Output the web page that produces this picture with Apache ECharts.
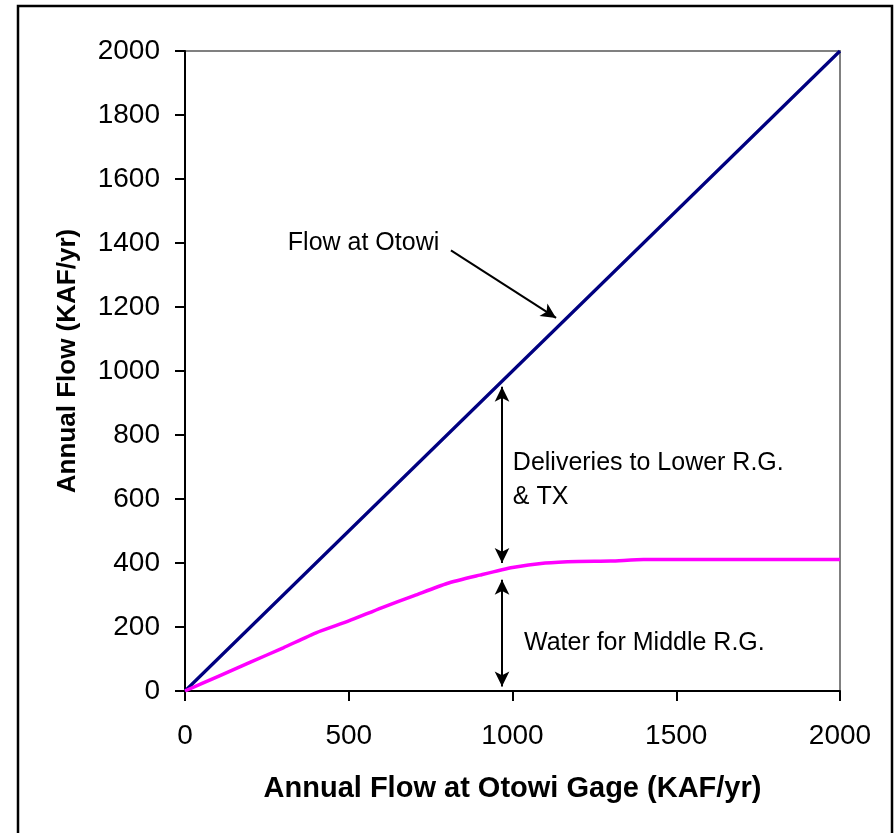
<!DOCTYPE html>
<html><head><meta charset="utf-8">
<script src="https://cdn.jsdelivr.net/npm/echarts@6/dist/echarts.min.js"></script>
<style>html,body{margin:0;padding:0;background:#fff}#c{width:896px;height:833px}</style>
</head><body><div id="c"></div>
<script>
const xValues = [0,100,200,300,400,500,600,700,800,900,1000,1100,1200,1300,1400,1500,1600,1700,1800,1900,2000];
const flowAtOtowi = [0,100,200,300,400,500,600,700,800,900,1000,1100,1200,1300,1400,1500,1600,1700,1800,1900,2000];
const middleRG = [0,45,90,135,182,219,260,298,336,362,386,400,405,406,411,411,411,411,411,411,411];
const xTicks = [0,500,1000,1500,2000];
const yTicks = [0,200,400,600,800,1000,1200,1400,1600,1800,2000];
const xTitle = 'Annual Flow at Otowi Gage (KAF/yr)';
const yTitle = 'Annual Flow (KAF/yr)';
const notes = [
  {text:'Flow at Otowi', coord:[314,1400]},
  {text:'Deliveries to Lower R.G.\n& TX', coord:[1001,659]},
  {text:'Water for Middle R.G.', coord:[1035,150]}
];
const arrows = [
  {from:[812,1377], to:[1133,1166], both:false},
  {from:[968,400], to:[968,951], both:true},
  {from:[968,14], to:[968,348], both:true}
];
const FONT = '"Liberation Sans", Arial, sans-serif';
const chart = echarts.init(document.getElementById('c'));
chart.setOption({
  animation:false,
  backgroundColor:'#fff',
  grid:{left:185,right:56,top:51,bottom:142,show:true,borderColor:'#808080',borderWidth:2,backgroundColor:'transparent'},
  xAxis:{type:'value',min:0,max:2000,interval:500,
    name:xTitle,nameLocation:'middle',nameGap:83,
    nameTextStyle:{fontFamily:FONT,fontWeight:'bold',fontSize:29,color:'#000'},
    axisLine:{show:true,lineStyle:{color:'#000',width:2}},
    axisTick:{show:true,inside:false,length:10,lineStyle:{color:'#000',width:2}},
    axisLabel:{margin:31,fontFamily:FONT,fontSize:28,color:'#000',formatter:v=>String(v)},
    splitLine:{show:false}},
  yAxis:{type:'value',min:0,max:2000,interval:200,
    name:yTitle,nameLocation:'middle',nameGap:104,
    nameTextStyle:{fontFamily:FONT,fontWeight:'bold',fontSize:26,color:'#000',padding:[0,0,0,20]},
    axisLine:{show:true,lineStyle:{color:'#000',width:2}},
    axisTick:{show:true,inside:false,length:10,lineStyle:{color:'#000',width:2}},
    axisLabel:{margin:25,fontFamily:FONT,fontSize:28,color:'#000',formatter:v=>String(v)},
    splitLine:{show:false}},
  graphic:[{type:'rect',shape:{x:18,y:6,width:874,height:840},style:{fill:'none',stroke:'#000',lineWidth:2.5},silent:true}],
  series:[
    {type:'line',name:'Flow at Otowi',data:xValues.map((x,i)=>[x,flowAtOtowi[i]]),showSymbol:false,
     lineStyle:{color:'#000080',width:3.2},itemStyle:{color:'#000080'}},
    {type:'line',name:'Middle R.G.',data:xValues.map((x,i)=>[x,middleRG[i]]),showSymbol:false,smooth:0.2,
     lineStyle:{color:'#FF00FF',width:3.5},itemStyle:{color:'#FF00FF'},z:3},
    {type:'line',name:'annotations',data:[],silent:true,
     markLine:{silent:true,animation:false,symbolSize:[11,15],
       lineStyle:{color:'#000',width:2,type:'solid'},label:{show:false},
       data:arrows.map(a=>[{coord:a.from,symbol:a.both?'arrow':'none'},{coord:a.to,symbol:'arrow'}])},
     markPoint:{silent:true,symbol:'circle',symbolSize:0,
       label:{show:true,position:'right',distance:0,fontFamily:FONT,fontSize:25,color:'#000',lineHeight:34,align:'left',verticalAlign:'middle'},
       data:notes.map(n=>({coord:n.coord,value:n.text,label:{formatter:n.text}}))}}
  ]
});
</script></body></html>
